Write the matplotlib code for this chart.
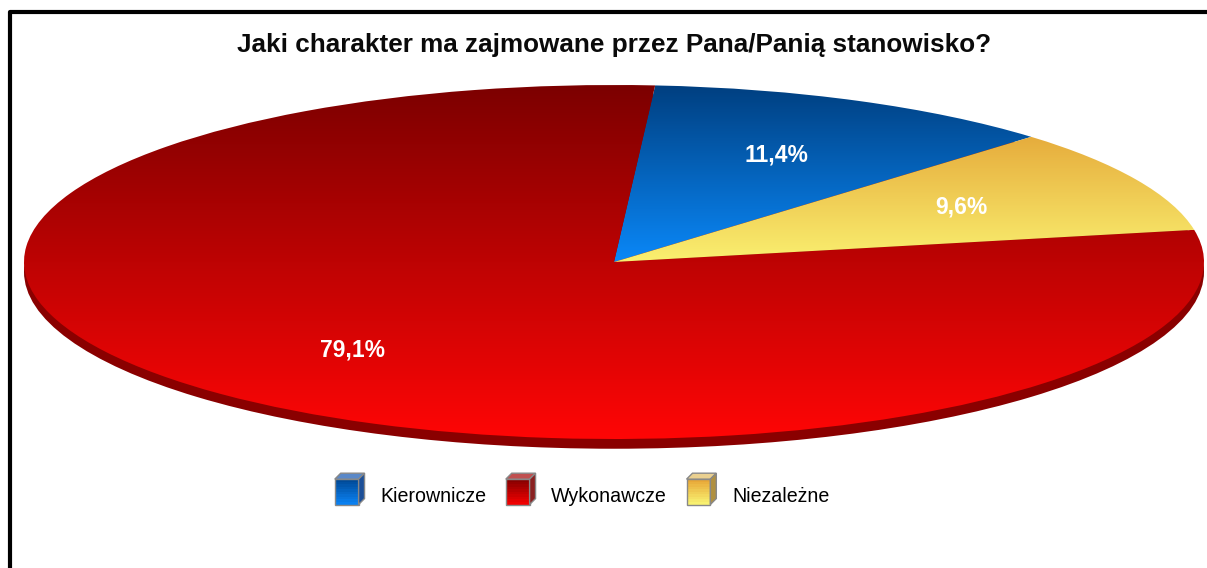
import numpy as np
import matplotlib
matplotlib.use("Agg")
import matplotlib.pyplot as plt
from matplotlib.colors import LinearSegmentedColormap, to_rgb
from matplotlib.legend_handler import HandlerBase
from matplotlib.patches import Polygon, Rectangle, Circle
from matplotlib.lines import Line2D

plt.rcParams['font.family'] = ['Liberation Sans', 'DejaVu Sans']

# dane
categories = ['Kierownicze', 'Wykonawcze', 'Niezależne']
values = [11.4, 79.1, 9.6]
value_labels = ['11,4%', '79,1%', '9,6%']
title = 'Jaki charakter ma zajmowane przez Pana/Panią stanowisko?'

# gradient (gora, dol) dla kazdego wycinka
grad_colors = [('#003f80', '#0a88f8'), ('#7c0000', '#ff0606'), ('#e6ac3c', '#faf070')]
# kostki w legendzie: (gora przodu, dol przodu, wierzch, bok)
cube_colors = [('#004a98', '#0a80f0', '#5a88c8', '#1c4f98'),
               ('#880000', '#f00000', '#c05050', '#8a2020'),
               ('#e8a838', '#f8f070', '#ead090', '#b09040')]

W, H = 1207, 568
fig = plt.figure(figsize=(W / 100, H / 100), dpi=100)

# ramka (lewa i gorna krawedz)
fig.add_artist(Line2D([9.5 / W, 9.5 / W, 1.0], [0.0, 1 - 11.5 / H, 1 - 11.5 / H],
                      transform=fig.transFigure, color='black', lw=3))

fig.text(614 / W, 1 - 52 / H, title, ha='center', va='baseline',
         fontsize=18.8, fontweight='bold', color='#0a0a0a')

ext = 0.055  # grubosc "3D"
ax = fig.add_axes([24 / W, (H - 85 - 177 * (2 + ext)) / H, 1180 / W, 177 * (2 + ext) / H])
ax.axis('off')

# bok placka
ax.add_patch(Circle((0, -ext), 1, facecolor='#8a0000', edgecolor='none', zorder=0))

wedges, _ = ax.pie(values, startangle=45, counterclock=True, radius=1,
                   wedgeprops=dict(linewidth=0, edgecolor='none'))

grad = np.linspace(0, 1, 256).reshape(-1, 1)
for w, (c_top, c_bot), lab in zip(wedges, grad_colors, value_labels):
    w.set_facecolor('none')
    bb = w.get_path().get_extents()
    cmap = LinearSegmentedColormap.from_list('g', [c_bot, c_top])
    im = ax.imshow(grad, cmap=cmap, extent=[bb.x0, bb.x1, bb.y0, bb.y1],
                   origin='lower', aspect='auto', zorder=1, interpolation='bilinear')
    im.set_clip_path(w)
    mid = np.deg2rad((w.theta1 + w.theta2) / 2)
    ax.text(0.665 * np.cos(mid), 0.665 * np.sin(mid), lab, ha='center', va='center',
            color='white', fontsize=16.5, fontweight='bold', zorder=3)

ax.set_aspect('auto')
ax.set_xlim(-1, 1)
ax.set_ylim(-1 - ext, 1)


class CubeHandler(HandlerBase):
    # kostka 3D jako znacznik legendy
    def create_artists(self, legend, orig_handle, xdescent, ydescent, width, height,
                       fontsize, trans):
        c_top, c_bot, c_lid, c_side = orig_handle
        total_h = 1.6 * fontsize
        d = width * 0.2
        fw = width - d
        fh = total_h - d
        x0, y0 = -xdescent, -0.12 * fontsize
        arts = []
        n = 10
        for i in range(n):
            t = i / (n - 1)
            col = np.array(to_rgb(c_bot)) * (1 - t) + np.array(to_rgb(c_top)) * t
            arts.append(Rectangle((x0, y0 + fh * i / n), fw, fh / n + 0.3, facecolor=col,
                                  edgecolor='none', transform=trans))
        arts.append(Rectangle((x0, y0), fw, fh, facecolor='none', edgecolor='#888888',
                              lw=1, transform=trans))
        arts.append(Polygon([[x0, y0 + fh], [x0 + d, y0 + fh + d], [x0 + fw + d, y0 + fh + d],
                             [x0 + fw, y0 + fh]], closed=True, facecolor=c_lid,
                            edgecolor='#888888', lw=1, transform=trans))
        arts.append(Polygon([[x0 + fw, y0], [x0 + fw + d, y0 + d], [x0 + fw + d, y0 + fh + d],
                             [x0 + fw, y0 + fh]], closed=True, facecolor=c_side,
                            edgecolor='#888888', lw=1, transform=trans))
        return arts


fig.legend(cube_colors, categories, handler_map={tuple: CubeHandler()},
           loc='center', bbox_to_anchor=(582 / W, 1 - 496 / H), ncol=3, frameon=False,
           fontsize=14.1, handlelength=1.52, handleheight=2.1, handletextpad=0.8,
           columnspacing=1.0)

fig.savefig('out.png', dpi=100, facecolor='white')
